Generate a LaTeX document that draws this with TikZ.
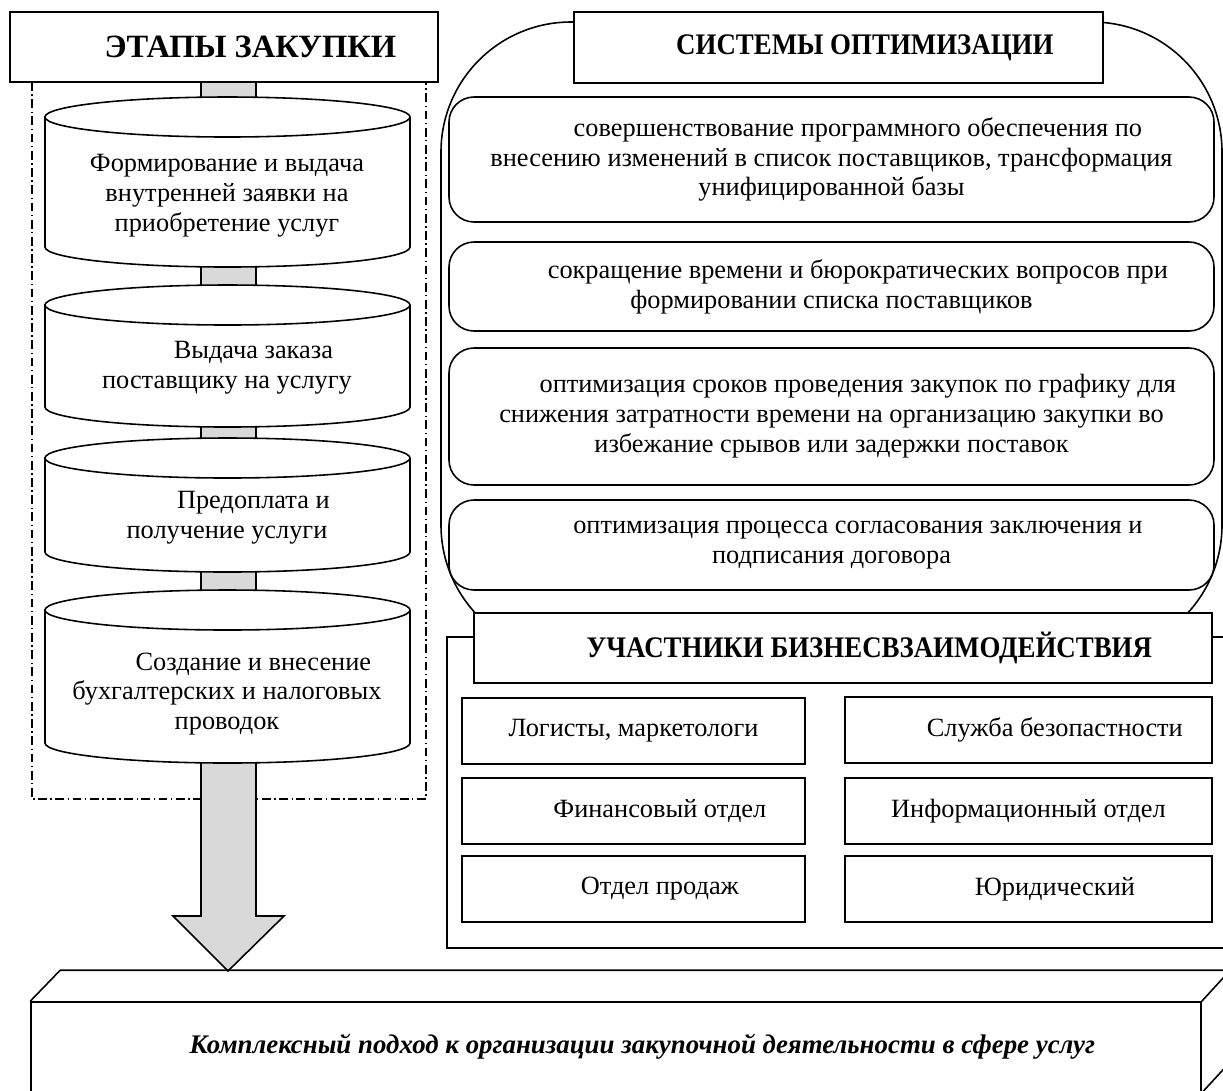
\documentclass[tikz,border=0pt]{standalone}
\usepackage{fontspec}
\setmainfont{Liberation Serif}
\usetikzlibrary{calc}

\newcommand{\firstind}{\hspace*{30pt}}
\newcommand{\narrow}[1]{\scalebox{0.9}[1]{#1}}
\newcommand{\stagecyl}[2]{%
\filldraw[fill=white] (45,#1) -- (45,#2) arc[start angle=180,end angle=360,x radius=182.5,y radius=20] -- (410,#1) arc[start angle=0,end angle=180,x radius=182.5,y radius=20] -- cycle;
\draw (45,#1) arc[start angle=180,end angle=360,x radius=182.5,y radius=20];}
\tikzset{
  boxsize/.style 2 args={minimum width=#1*0.02cm,minimum height=#2*0.02cm},
  box/.style={draw,fill=white,inner sep=2pt,align=center,font=\fontsize{15}{17}\selectfont},
  head/.style={draw,fill=white,inner sep=2pt,font=\fontsize{17}{20}\selectfont\bfseries},
  stagetext/.style={align=center,font=\fontsize{15}{17}\selectfont},
  bar/.style={draw,fill=black!15},
  framedash/.style={line width=0.7pt,dash pattern=on 5pt off 2pt on 0.8pt off 2pt}}

\begin{document}
\begin{tikzpicture}[x=0.02cm,y=0.02cm,line width=0.9pt]
\clip (0,0) rectangle (1223,-1090);
\draw[framedash] (32,-82) rectangle (426,-799);
\coordinate (tip) at (228,-971);
\draw[bar] (201,-82) -- (201,-916) -- (173,-916) -- (tip) -- (284,-916) -- (256,-916) -- (256,-82) -- cycle;
\stagecyl{-117}{-247}
\stagecyl{-305}{-407}
\stagecyl{-458}{-552}
\stagecyl{-610}{-743}
\node[stagetext] (st1) at (227,-196) {Формирование и выдача\\внутренней заявки на\\приобретение услуг};
\node[stagetext] (st2) at (227,-368) {\firstind Выдача заказа\\поставщику на услугу};
\node[stagetext] (st3) at (227,-518) {\firstind Предоплата и\\получение услуги};
\node[stagetext] (st4) at (227,-694) {\firstind Создание и внесение\\бухгалтерских и налоговых\\проводок};
\node[head,boxsize={428}{70},font=\fontsize{18.5}{20}\selectfont\bfseries] (stages) at (224,-47) {\firstind ЭТАПЫ ЗАКУПКИ};

\draw[rounded corners=2.6cm] (441,-22) rectangle (1222,-655);
\node[head,boxsize={529}{71}] (optim) at (838.5,-47.5) {\firstind\narrow{СИСТЕМЫ ОПТИМИЗАЦИИ}};
\node[box,rounded corners=0.5cm,boxsize={765}{125}] (o1) at (831.5,-159.5) {\firstind совершенствование программного обеспечения по\\внесению изменений в список поставщиков, трансформация\\унифицированной базы};
\node[box,rounded corners=0.5cm,boxsize={765}{89}] (o2) at (831.5,-286.5) {\firstind сокращение времени и бюрократических вопросов при\\формировании списка поставщиков};
\node[box,rounded corners=0.5cm,boxsize={765}{137}] (o3) at (831.5,-416.5) {\firstind оптимизация сроков проведения закупок по графику для\\снижения затратности времени на организацию закупки во\\избежание срывов или задержки поставок};
\node[box,rounded corners=0.5cm,boxsize={765}{90}] (o4) at (831.5,-545) {\firstind оптимизация процесса согласования заключения и\\подписания договора};

\draw (1240,-637) -| (447,-948) -- (1240,-948);
\node[head,boxsize={738}{70}] (part) at (843,-648) {\firstind\narrow{УЧАСТНИКИ БИЗНЕСВЗАИМОДЕЙСТВИЯ}};
\node[box,boxsize={343}{66}] (p1) at (633.5,-731) {Логисты, маркетологи};
\node[box,boxsize={367}{66}] (p2) at (1028.5,-730) {\firstind Служба безопастности};
\node[box,boxsize={343}{66}] (p3) at (633.5,-811) {\firstind Финансовый отдел};
\node[box,boxsize={367}{66}] (p4) at (1028.5,-811) {Информационный отдел};
\node[box,boxsize={343}{66}] (p5) at (633.5,-889) {\firstind Отдел продаж};
\node[box,boxsize={367}{66}] (p6) at (1028.5,-889) {\firstind Юридический};

\node[draw,fill=white,boxsize={1170}{90},font=\fontsize{15.3}{17}\selectfont\bfseries\itshape] (result) at (616,-1047) {\firstind Комплексный подход к организации закупочной деятельности в сфере услуг};
\draw (result.north west) -- ++(30,31) -- ++(1170,0) -- (result.north east) ++(30,31) -- ++(0,-90) -- (result.south east);
\end{tikzpicture}
\end{document}
